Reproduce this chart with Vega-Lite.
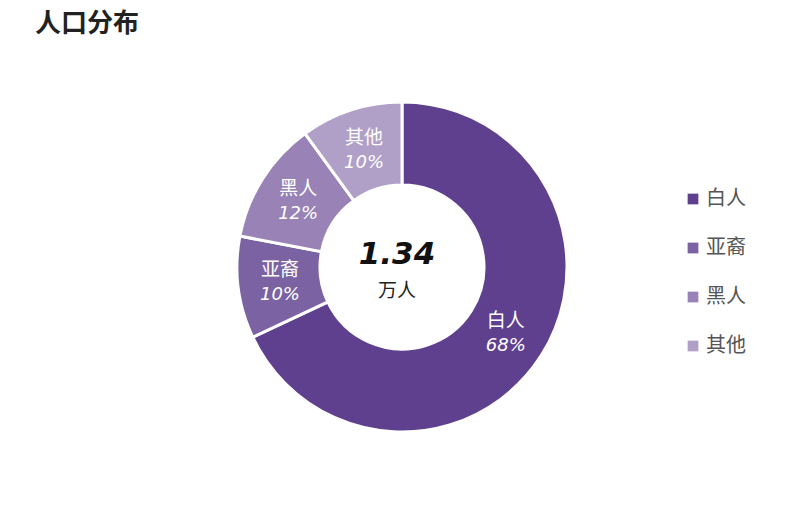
{
  "$schema": "https://vega.github.io/schema/vega-lite/v6.json",
  "width": 804,
  "height": 434,
  "autosize": {"type": "none"},
  "padding": {"top": 50, "bottom": 48, "left": 0, "right": 0},
  "background": "white",
  "title": {
    "text": "人口分布",
    "anchor": "start",
    "frame": "group",
    "dx": 35,
    "offset": 13,
    "fontSize": 26,
    "fontWeight": "bold",
    "color": "#222222",
    "font": "Noto Sans CJK SC"
  },
  "config": {"view": {"stroke": null}},
  "data": {
    "values": [
      {"idx": 1, "group": "白人", "pct": 68, "label": "68%"},
      {"idx": 2, "group": "亚裔", "pct": 10, "label": "10%"},
      {"idx": 3, "group": "黑人", "pct": 12, "label": "12%"},
      {"idx": 4, "group": "其他", "pct": 10, "label": "10%"}
    ]
  },
  "encoding": {
    "theta": {"field": "pct", "type": "quantitative", "stack": true},
    "order": {"field": "idx", "type": "quantitative"}
  },
  "layer": [
    {
      "mark": {"type": "arc", "outerRadius": 165, "innerRadius": 82, "stroke": "white", "strokeWidth": 3},
      "encoding": {
        "color": {
          "field": "group",
          "type": "nominal",
          "sort": ["白人", "亚裔", "黑人", "其他"],
          "scale": {"domain": ["白人", "亚裔", "黑人", "其他"], "range": ["#5f408f", "#7b63a3", "#9882b6", "#b0a0c8"]},
          "legend": {
            "title": null,
            "orient": "none",
            "legendX": 683,
            "legendY": 139,
            "symbolType": "square",
            "symbolSize": 115,
            "symbolStrokeWidth": 0,
            "labelFontSize": 20,
            "labelColor": "#555555",
            "labelFont": "Noto Sans CJK SC",
            "labelOffset": 3,
            "rowPadding": 29,
            "labelLimit": 200
          }
        }
      }
    },
    {
      "mark": {"type": "text", "radius": 123, "dy": -12, "fontSize": 19, "color": "white", "font": "Noto Sans CJK SC"},
      "encoding": {"text": {"field": "group"}}
    },
    {
      "mark": {"type": "text", "radius": 123, "dy": 13, "fontSize": 18, "fontStyle": "italic", "color": "white", "font": "DejaVu Sans"},
      "encoding": {"text": {"field": "label"}}
    },
    {
      "data": {"values": [{"t": "1.34"}]},
      "mark": {"type": "text", "dy": -12, "dx": -5, "fontSize": 31, "fontWeight": "bold", "fontStyle": "italic", "color": "#111111", "font": "DejaVu Sans"},
      "encoding": {"text": {"field": "t"}, "theta": null, "order": null}
    },
    {
      "data": {"values": [{"t": "万人"}]},
      "mark": {"type": "text", "dy": 24, "dx": -5, "fontSize": 19, "color": "#222222", "font": "Noto Sans CJK SC"},
      "encoding": {"text": {"field": "t"}, "theta": null, "order": null}
    }
  ]
}
